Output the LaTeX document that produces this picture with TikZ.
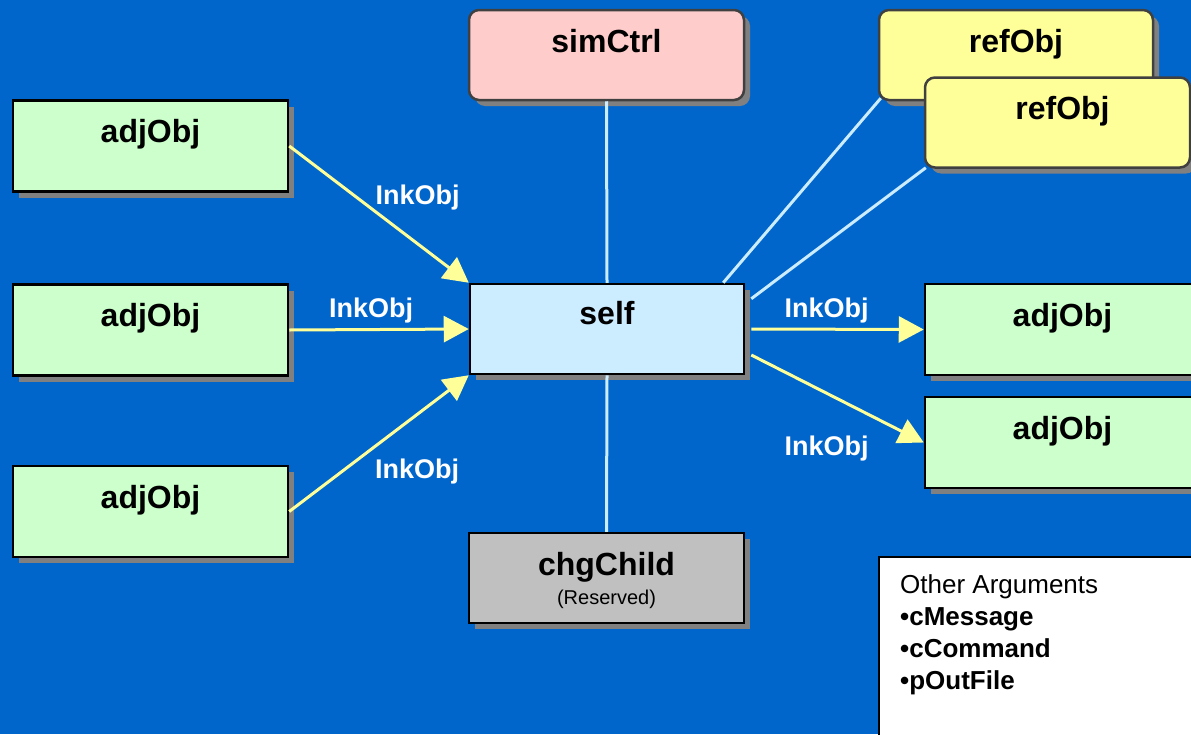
\documentclass[tikz,border=0pt]{standalone}
\usepackage{fontspec}
\setmainfont{Liberation Sans}
\usetikzlibrary{arrows.meta,shadows,calc}
\definecolor{bg}{HTML}{0066CC}
\definecolor{boxgreen}{HTML}{CCFFCC}
\definecolor{boxpink}{HTML}{FFCCCC}
\definecolor{boxyellow}{HTML}{FFFF99}
\definecolor{boxblue}{HTML}{CCECFF}
\definecolor{boxgray}{HTML}{C0C0C0}
\definecolor{shadowgray}{HTML}{808080}
\definecolor{arrowyellow}{HTML}{FFFF99}
\definecolor{linkblue}{HTML}{CCECFF}
\definecolor{rborder}{HTML}{404040}
\tikzset{
  objbox/.style={draw=black, line width=2.5pt, minimum width=275pt, inner sep=0pt,
    font=\fontsize{32}{36}\selectfont\bfseries, text height=42pt,
    drop shadow={shadow xshift=6pt, shadow yshift=-6pt, fill=shadowgray, opacity=1}},
  sqbox/.style={objbox, minimum height=91pt, text depth=49pt},
  rbox/.style={objbox, draw=rborder, rounded corners=10pt, minimum height=90pt, text depth=48pt},
  yarrow/.style={draw=arrowyellow, line width=3pt, -{Triangle[length=25pt,width=26pt]}},
  blink/.style={draw=linkblue, line width=3pt},
  lbl/.style={text=white, inner sep=0pt, anchor=base, font=\fontsize{27}{30}\selectfont\bfseries},
}
\begin{document}
\begin{tikzpicture}[x=1pt,y=-1pt]
\useasboundingbox (0,0) rectangle (1191,734);
\clip (0,0) rectangle (1191,734);
\fill[bg] (0,0) rectangle (1191,734);

% left adjacent objects
\node[sqbox, fill=boxgreen] (L1) at (150.5,146) {adjObj};
\node[sqbox, fill=boxgreen] (L2) at (150.5,330) {adjObj};
\node[sqbox, fill=boxgreen] (L3) at (150.5,511.5) {adjObj};

% centre column
\node[rbox, fill=boxpink] (sim) at (606.5,55) {simCtrl};
\node[sqbox, fill=boxblue, minimum height=90pt, text height=40pt, text depth=50pt, minimum width=274pt] (self) at (607,329) {self};
\node[sqbox, fill=boxgray, minimum height=90pt, text depth=48pt,
      label={[anchor=base, yshift=20pt, inner sep=0pt, font=\fontsize{20}{24}\selectfont]south:(Reserved)}] (chg) at (606.5,578) {chgChild};

% reference objects
\node[rbox, fill=boxyellow, minimum width=274pt] (ref1) at (1016,55) {refObj};
\node[rbox, fill=boxyellow, minimum width=265pt, minimum height=89pt] (ref2) at (1057.5,122.5) {\hspace*{10pt}refObj};

% right adjacent objects
\node[sqbox, fill=boxgreen] (R1) at (1062.5,329.5) {adjObj};
\node[sqbox, fill=boxgreen] (R2) at (1062.5,442.5) {adjObj};

% other arguments
\node[draw=black, line width=2pt, fill=white, minimum width=340pt, minimum height=200pt, anchor=north west] (args) at (878,556) {};
\node[anchor=north west, inner sep=0pt, align=left, font=\fontsize{26}{32}\selectfont] (argtext) at (900,574)
  {Other Arguments\\\textbf{•cMessage}\\\textbf{•cCommand}\\\textbf{•pOutFile}};

% light blue links
\draw[blink] (sim.south) -- (self.north);
\draw[blink] (self.south) -- (chg.north);
\coordinate (s1) at ($(self.north east)+(-22,0)$);
\coordinate (s2) at ($(self.north east)+(6,16)$);
\draw[blink] (s1) -- ($(ref1.south west)+(3,-3)$);
\draw[blink] (s2) -- ($(ref2.south west)+(2,-1)$);

% yellow arrows
\draw[yarrow] (L1.east) -- (self.north west);
\draw[yarrow] (L2.east) -- (self.west);
\draw[yarrow] (L3.east) -- (self.south west);
\coordinate (s3) at ($(self.east)+(6,0)$);
\coordinate (s4) at ($(self.east)+(6,26)$);
\draw[yarrow] (s3) -- (R1.west);
\draw[yarrow] (s4) -- (R2.west);

% labels
\node[lbl] (t1) at (417.5,204) {InkObj};
\node[lbl] (t2) at (371,317) {InkObj};
\node[lbl] (t3) at (417,478) {InkObj};
\node[lbl] (t4) at (826.5,317) {InkObj};
\node[lbl] (t5) at (826.5,455) {InkObj};
\end{tikzpicture}
\end{document}
